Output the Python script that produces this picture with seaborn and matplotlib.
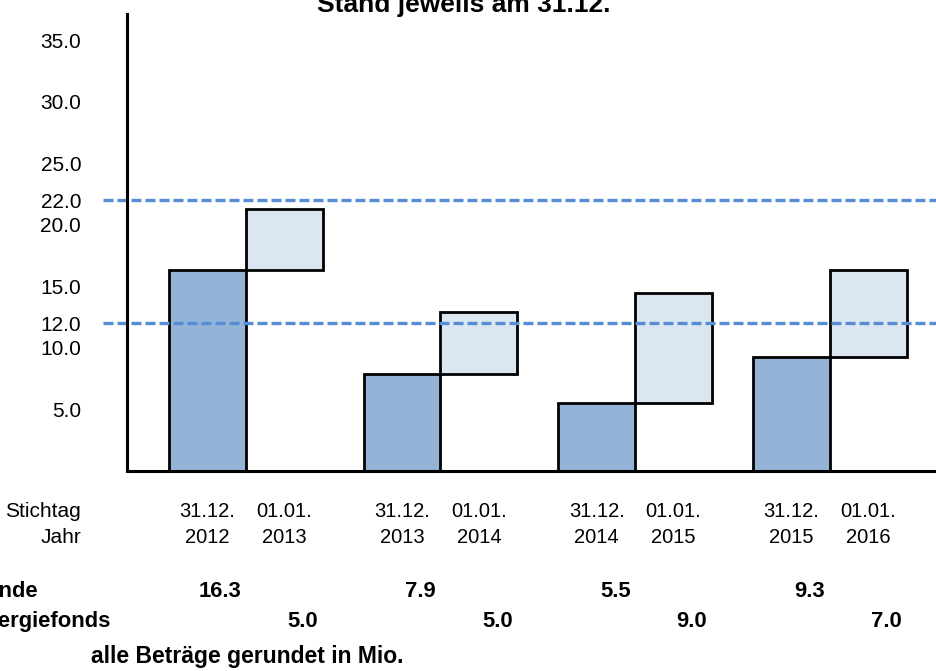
import numpy as np
import matplotlib
matplotlib.use("Agg")
import matplotlib.pyplot as plt
import matplotlib.transforms as mtransforms
import seaborn as sns

# Fondsbestand am Jahresende und Zuweisung zum Jahresbeginn (Mio.)
years = [2012, 2013, 2014, 2015]
stand_jahresende = [16.3, 7.9, 5.5, 9.3]
zuweisung_energiefonds = [5.0, 5.0, 9.0, 7.0]
grenzwerte = [12.0, 22.0]
y_ticks = [5.0, 10.0, 12.0, 15.0, 20.0, 22.0, 25.0, 30.0, 35.0]
title = "Stand jeweils am 31.12."
row_labels = ["Stand Jahresende", "Zuweisung Energiefonds"]
footer = "alle Beträge gerundet in Mio."

DARK = "#95B3D7"
LIGHT = "#DCE6F1"
LINE = "#558ED5"

W, H = 937, 671
sns.set_theme(style="white")
plt.rcParams["font.family"] = ["Liberation Sans", "DejaVu Sans"]
plt.rcParams["text.color"] = "black"

fig = plt.figure(figsize=(W / 100, H / 100), dpi=100)
ax = fig.add_axes([127 / W, (H - 471) / H, (W - 127) / W, (471 - 14) / H])

# bar layout: each year's pair of bars sits side by side, pairs spaced apart
BAR_W = 1.0
GROUP_STEP = 2.535
dark_pos = np.arange(len(years)) * GROUP_STEP
light_pos = dark_pos + BAR_W

sns.barplot(x=dark_pos, y=stand_jahresende, native_scale=True,
            width=BAR_W / GROUP_STEP, color=DARK, saturation=1,
            edgecolor="black", linewidth=2, errorbar=None, ax=ax, zorder=2)
sns.barplot(x=light_pos, y=zuweisung_energiefonds, bottom=stand_jahresende,
            native_scale=True, width=BAR_W / GROUP_STEP, color=LIGHT,
            saturation=1, edgecolor="black", linewidth=2, errorbar=None,
            ax=ax, zorder=2)

for g in grenzwerte:
    ax.axhline(g, xmin=-24 / (W - 127), xmax=1, color=LINE, lw=2.4,
               dashes=(3.0, 1.2), clip_on=False, zorder=5)

ax.set_xlim((127 - 207.4) / 76.8, (W - 207.4) / 76.8)
ax.set_ylim(0, 37.15)
ax.set_xticks([])
ax.set_yticks(y_ticks)
ax.set_yticklabels([f"{v:.1f}" for v in y_ticks])
ax.tick_params(axis="y", length=0, pad=33, labelsize=15, labelcolor="black")
ax.set_xlabel("")
ax.set_ylabel("")
sns.despine(ax=ax)
for side in ("left", "bottom"):
    ax.spines[side].set_color("black")
    ax.spines[side].set_linewidth(2.2)
    ax.spines[side].set_zorder(6)


def fy(py):
    return 1 - py / H


trans = mtransforms.blended_transform_factory(ax.transData, fig.transFigure)
nudge = 0.5 - 0.06
for i, yr in enumerate(years):
    ax.text(dark_pos[i], fy(517), "31.12.", ha="center", va="baseline",
            transform=trans, fontsize=14.5, color="black")
    ax.text(dark_pos[i], fy(543), str(yr), ha="center", va="baseline",
            transform=trans, fontsize=14.5, color="black")
    ax.text(light_pos[i], fy(517), "01.01.", ha="center", va="baseline",
            transform=trans, fontsize=14.5, color="black")
    ax.text(light_pos[i], fy(543), str(yr + 1), ha="center", va="baseline",
            transform=trans, fontsize=14.5, color="black")
    ax.text(dark_pos[i] + nudge, fy(597), f"{stand_jahresende[i]:.1f}",
            ha="right", va="baseline", transform=trans, fontsize=15.8,
            fontweight="bold", color="black")
    ax.text(light_pos[i] + nudge, fy(627), f"{zuweisung_energiefonds[i]:.1f}",
            ha="right", va="baseline", transform=trans, fontsize=15.8,
            fontweight="bold", color="black")

fig.text(81 / W, fy(517), "Stichtag", ha="right", va="baseline", fontsize=15)
fig.text(81 / W, fy(543), "Jahr", ha="right", va="baseline", fontsize=15)
fig.text(38 / W, fy(597), row_labels[0], ha="right", va="baseline",
         fontsize=15.8, fontweight="bold")
fig.text(110 / W, fy(627), row_labels[1], ha="right", va="baseline",
         fontsize=15.8, fontweight="bold")
fig.text(247.5 / W, fy(663), footer, ha="center", va="baseline",
         fontsize=16.5, fontweight="bold")
fig.text(463.5 / W, fy(12), title, ha="center", va="baseline",
         fontsize=19, fontweight="bold")

fig.savefig("out.png", dpi=100)
